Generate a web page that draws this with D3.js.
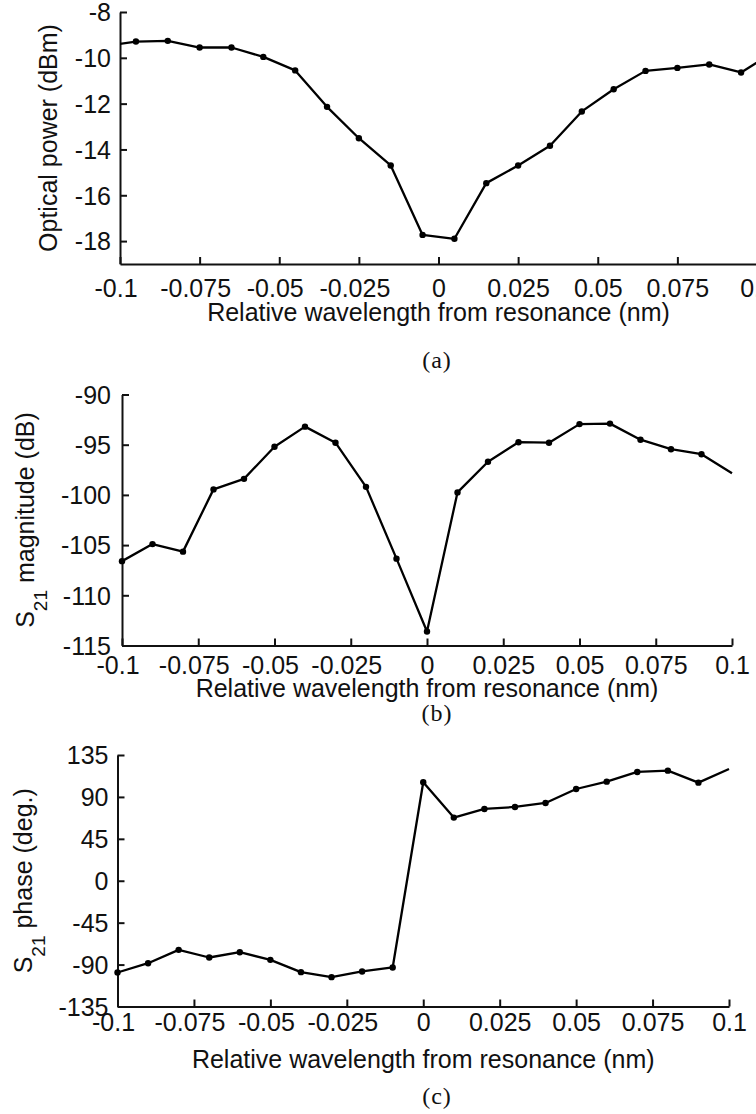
<!DOCTYPE html>
<html>
<head>
<meta charset="utf-8">
<script src="https://cdn.jsdelivr.net/npm/d3@7"></script>
<style>
  html, body { margin: 0; padding: 0; background: #fff; }
  svg { display: block; }
  text { font-family: "Liberation Sans", Arial, Helvetica, sans-serif; fill: #111; }
  .caption { font-family: "Liberation Serif", "Times New Roman", serif; }
</style>
</head>
<body>
<svg id="fig" width="756" height="1114"></svg>
<script>
// (a) optical power through the ring around its resonance
const wavelengthA = [-0.105, -0.095, -0.085, -0.075, -0.065, -0.055, -0.045, -0.035, -0.025, -0.015, -0.005,
                      0.005, 0.015, 0.025, 0.035, 0.045, 0.055, 0.065, 0.075, 0.085, 0.095, 0.105];
const opticalPower = [-9.49, -9.29, -9.26, -9.55, -9.55, -9.96, -10.55, -12.14, -13.51, -14.70, -17.73,
                      -17.90, -15.47, -14.70, -13.84, -12.34, -11.37, -10.57, -10.44, -10.29, -10.64, -9.76];

// (b), (c) RF transmission S21 versus laser detuning
const wavelengthBC = [-0.1, -0.09, -0.08, -0.07, -0.06, -0.05, -0.04, -0.03, -0.02, -0.01, 0,
                      0.01, 0.02, 0.03, 0.04, 0.05, 0.06, 0.07, 0.08, 0.09, 0.1];
const s21Magnitude = [-106.6, -104.9, -105.65, -99.45, -98.4, -95.2, -93.2, -94.8, -99.2, -106.35, -113.6,
                      -99.75, -96.7, -94.75, -94.8, -92.95, -92.9, -94.5, -95.45, -95.95, -97.85];
const s21Phase = [-98.5, -88.5, -74.2, -82.4, -76.7, -84.9, -98.1, -103.5, -97.4, -93.1, 105.7,
                  67.8, 77.1, 79.2, 83.5, 98.5, 106.4, 116.8, 118.2, 105.3, 120.0];

// shared axis ticks
const xTicks = [-0.1, -0.075, -0.05, -0.025, 0, 0.025, 0.05, 0.075, 0.1];
const xTickLabels = ["-0.1", "-0.075", "-0.05", "-0.025", "0", "0.025", "0.05", "0.075", "0.1"];
const powerTicks = [-8, -10, -12, -14, -16, -18];
const magnitudeTicks = [-90, -95, -100, -105, -110, -115];
const phaseTicks = [135, 90, 45, 0, -45, -90, -135];

const xTitle = "Relative wavelength from resonance (nm)";

const svg = d3.select("#fig");

function drawPanel(p) {
  const g = svg.append("g");
  const x = d3.scaleLinear().domain([-0.1, 0.1]).range(p.xRange);
  const y = d3.scaleLinear().domain(p.yDomain).range(p.yRange);
  const pts = p.xs.map((v, i) => ({ x: v, y: p.ys[i] }));

  // clip region for the trace (keeps it inside the axes box)
  const clipId = "clip-" + p.id;
  g.append("clipPath").attr("id", clipId)
    .append("rect")
    .attr("x", p.xRange[0]).attr("y", p.yRange[1] - 20)
    .attr("width", p.xRange[1] - p.xRange[0] + 20)
    .attr("height", p.yRange[0] - p.yRange[1] + 40);

  // x axis
  const xAxis = g.append("g")
    .attr("transform", `translate(0,${p.yRange[0]})`)
    .call(d3.axisBottom(x).tickValues(xTicks)
      .tickFormat((d, i) => xTickLabels[i])
      .tickSizeInner(-7).tickSizeOuter(0));
  xAxis.select(".domain").attr("stroke", "#111").attr("stroke-width", 2);
  xAxis.selectAll(".tick line").attr("stroke", "#111").attr("stroke-width", 2);
  xAxis.selectAll(".tick text")
    .attr("y", p.xTickBase).attr("dy", 0)
    .attr("dx", d => d < 0 ? -4.5 : 0)
    .style("font-size", "25px").attr("fill", "#111");

  // y axis (plain hyphen for negative numbers)
  const yAxis = g.append("g")
    .attr("transform", `translate(${p.xRange[0]},0)`)
    .call(d3.axisLeft(y).tickValues(p.yTicks)
      .tickFormat(d => String(d))
      .tickSizeInner(-7).tickSizeOuter(0));
  yAxis.select(".domain").attr("stroke", "#111").attr("stroke-width", 2);
  yAxis.selectAll(".tick line").attr("stroke", "#111").attr("stroke-width", 2);
  yAxis.selectAll(".tick text")
    .attr("x", -p.yTickGap).attr("dy", "0.35em")
    .style("font-size", "25px").attr("fill", "#111");

  // trace
  g.append("path")
    .datum(pts)
    .attr("clip-path", `url(#${clipId})`)
    .attr("fill", "none")
    .attr("stroke", "#000")
    .attr("stroke-width", 2.3)
    .attr("stroke-linejoin", "round")
    .attr("d", d3.line().x(d => x(d.x)).y(d => y(d.y)));

  // measurement markers (none at the right-hand end point)
  g.append("g").selectAll("circle")
    .data(pts.filter(d => d.x >= -0.1 - 1e-9 && d.x < 0.1 - 1e-9))
    .join("circle")
    .attr("cx", d => x(d.x)).attr("cy", d => y(d.y))
    .attr("r", 3.2).attr("fill", "#000");

  // y title
  const yMid = (p.yRange[0] + p.yRange[1]) / 2;
  const yt = g.append("text")
    .attr("transform", `translate(${p.yTitleX},${yMid}) rotate(-90)`)
    .attr("text-anchor", "middle")
    .style("font-size", "25px");
  p.yTitle.forEach(part => {
    const t = yt.append("tspan").text(part.text);
    if (part.sub) t.style("font-size", "19px").attr("dy", 13);
    if (part.after) t.attr("dy", -13);
  });

  // x title
  g.append("text")
    .attr("x", (p.xRange[0] + p.xRange[1]) / 2)
    .attr("y", p.xTitleY)
    .attr("text-anchor", "middle")
    .style("font-size", "25px")
    .text(xTitle);

  // panel caption
  g.append("text")
    .attr("class", "caption")
    .attr("x", 437).attr("y", p.captionY)
    .attr("text-anchor", "middle")
    .style("font-size", "24px")
    .style("letter-spacing", "1px")
    .text(p.caption);
}

drawPanel({
  id: "a", xs: wavelengthA, ys: opticalPower,
  xRange: [120, 757], yDomain: [-19, -8], yRange: [264, 12], yTicks: powerTicks,
  yTickGap: 9, xTickBase: 33, yTitleX: 57, xTitleY: 321, captionY: 368, caption: "(a)",
  yTitle: [{ text: "Optical power (dBm)" }]
});

drawPanel({
  id: "b", xs: wavelengthBC, ys: s21Magnitude,
  xRange: [122, 732], yDomain: [-115, -90], yRange: [645.5, 394.5], yTicks: magnitudeTicks,
  yTickGap: 11, xTickBase: 28, yTitleX: 33.5, xTitleY: 697, captionY: 721, caption: "(b)",
  yTitle: [{ text: "S" }, { text: "21", sub: true }, { text: " magnitude (dB)", after: true }]
});

drawPanel({
  id: "c", xs: wavelengthBC, ys: s21Phase,
  xRange: [117.5, 729], yDomain: [-135, 135], yRange: [1006.5, 755], yTicks: phaseTicks,
  yTickGap: 9, xTickBase: 24, yTitleX: 32, xTitleY: 1068, captionY: 1104, caption: "(c)",
  yTitle: [{ text: "S" }, { text: "21", sub: true }, { text: " phase (deg.)", after: true }]
});
</script>
</body>
</html>
